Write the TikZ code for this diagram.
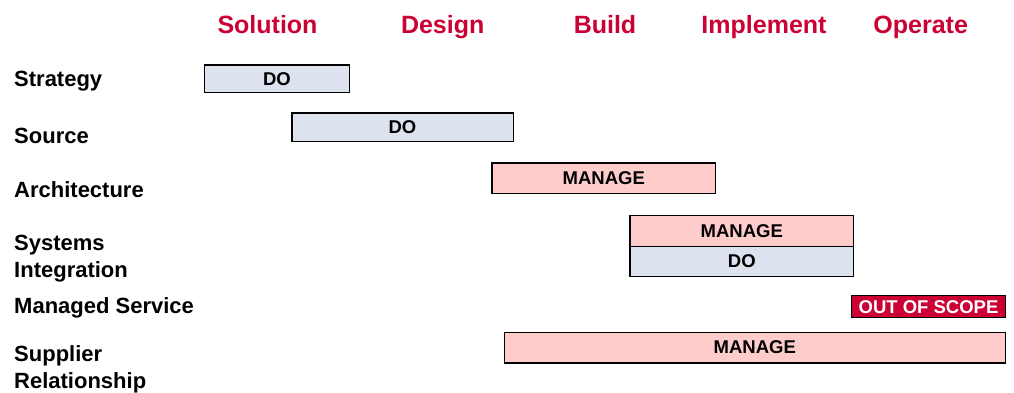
\documentclass[tikz,border=0pt]{standalone}
\usepackage{fontspec}
\setmainfont{Liberation Sans}
\definecolor{hdrred}{HTML}{CC0033}
\definecolor{dofill}{HTML}{DCE3EE}
\definecolor{mgfill}{HTML}{FFCCCC}
\begin{document}
\begin{tikzpicture}[x=1pt,y=-1pt,
  hdr/.style={anchor=base, text=hdrred, font=\bfseries\fontsize{25}{28}\selectfont, inner sep=0pt},
  rowlbl/.style={anchor=base west, align=left, font=\bfseries\fontsize{22}{27}\selectfont, inner sep=0pt},
  barbox/.style={draw=black, line width=1.2pt, inner sep=0pt, font=\bfseries\fontsize{18.5}{20}\selectfont},
  dobox/.style={barbox, fill=dofill},
  mgbox/.style={barbox, fill=mgfill},
  oosbox/.style={barbox, fill=hdrred, text=white}
]
\useasboundingbox (0,0) rectangle (1014,392);
% headers
\node[hdr] (hsol) at (267.5,33.5) {Solution};
\node[hdr] (hdes) at (442.7,33.5) {Design};
\node[hdr] (hbui) at (605,33.5) {Build};
\node[hdr] (himp) at (764,33.5) {Implement};
\node[hdr] (hope) at (920.7,33.5) {Operate};
% row labels (multi-line labels are anchored at the baseline of their last line)
\node[rowlbl] (lstrat) at (14,86.7) {Strategy};
\node[rowlbl] (lsrc) at (14,143.3) {Source};
\node[rowlbl] (larch) at (14,197.7) {Architecture};
\node[rowlbl] (lsi) at (14,277.7) {Systems\\Integration};
\node[rowlbl] (lms) at (14,313.3) {Managed Service};
\node[rowlbl] (lsr) at (14,388.3) {Supplier\\Relationship};
% bars
\node[dobox, minimum width=144.3pt, minimum height=27.8pt] (bstrat) at (277,78.8) {DO};
\node[dobox, minimum width=221.2pt, minimum height=28.2pt] (bsrc) at (402.5,127) {DO};
\node[mgbox, minimum width=223.8pt, minimum height=30.2pt] (barch) at (603.8,178) {MANAGE};
\node[mgbox, minimum width=223.8pt, minimum height=31pt] (bsim) at (741.8,231.2) {MANAGE};
\node[dobox, minimum width=223.8pt, minimum height=29.8pt] (bsid) at (741.8,261.6) {DO};
\node[oosbox, minimum width=153.8pt, minimum height=21.8pt] (boos) at (928.5,306.7) {OUT OF SCOPE};
\node[mgbox, minimum width=501.3pt, minimum height=30.6pt] (bsr) at (754.75,347.6) {MANAGE};
\end{tikzpicture}
\end{document}
